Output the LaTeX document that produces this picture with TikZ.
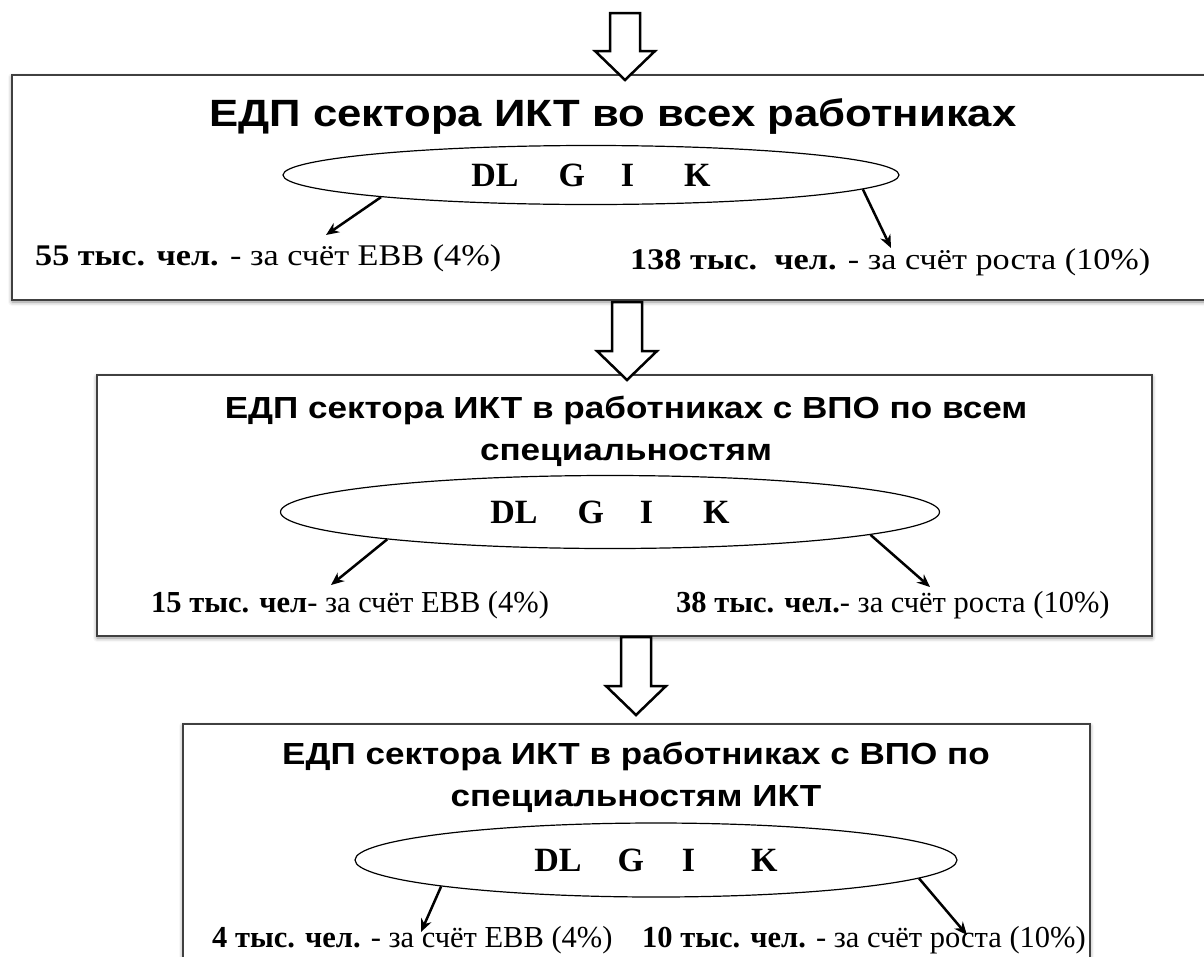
\documentclass[tikz,border=0pt]{standalone}
\usepackage{fontspec}
\setmainfont{Liberation Serif}
\setsansfont{Liberation Sans}
\newfontfamily\wideserif[FakeStretch=1.14]{Liberation Serif}
\newfontfamily\widesans[FakeStretch=1.15]{Liberation Sans}
\usetikzlibrary{arrows.meta,shapes.geometric,shadows.blur}

\begin{document}
\begin{tikzpicture}[x=1pt, y=-1pt, > = {Stealth[length=13pt,width=11pt]},
    box/.style = {draw=black!75, line width=2.5pt, fill=white, blur shadow={shadow xshift=0pt, shadow yshift=-2pt, shadow blur radius=4pt, shadow opacity=45}},
    bigarrow/.style = {draw=black, line width=2.5pt, fill=white, line join=miter},
    oval/.style = {draw, ellipse, line width=1.2pt, inner sep=0pt, font=\bfseries\fontsize{34}{34}\selectfont},
    head/.style = {font=\widesans\bfseries\fontsize{30.5}{42}\selectfont, align=center},
    lab/.style = {anchor=west, inner sep=0pt, font=\fontsize{30.5}{30}\selectfont},
    pointer/.style = {->, line width=2.5pt}]

    \useasboundingbox (0,0) rectangle (1204,956);

    % boxes
    \draw[box] (12,75) rectangle (1230,300);
    \draw[box] (97,375) rectangle (1152,636);
    \draw[box] (183,724) rectangle (1090,990);

    % hollow arrows between the boxes
    \foreach \x/\a/\b in {625/13/80, 627/302/380, 636/637/715}
        \draw[bigarrow] (\x-15,\a) -- (\x+15,\a) -- (\x+15,\b-29) -- (\x+30,\b-29) -- (\x,\b) -- (\x-30,\b-29) -- (\x-15,\b-29) -- cycle;

    % first box
    \node[head, font=\widesans\bfseries\fontsize{38}{42}\selectfont] (t1) at (613,117) {ЕДП сектора ИКТ во всех работниках};
    \node[oval, minimum width=616pt, minimum height=59pt] (e1) at (591,175) {DL\hspace{40pt}G\hspace{36pt}I\hspace{50pt}K};
    \node[lab, font=\wideserif\fontsize{30}{30}\selectfont] (l1) at (35,258) {\textbf{55 тыс. чел.} - за счёт ЕВВ (4\%)};
    \node[lab, font=\wideserif\fontsize{30}{30}\selectfont] (r1) at (630,262) {\textbf{138 тыс.\ \ чел.} - за счёт роста (10\%)};
    \coordinate (l1p) at (326,235);
    \coordinate (r1p) at (891,248);
    \draw[pointer] (e1.186) -- (l1p);
    \draw[pointer] (e1.357) -- (r1p);

    % second box
    \node[head] (t2) at (626,431) {ЕДП сектора ИКТ в работниках с ВПО по всем\\специальностям};
    \node[oval, minimum width=659pt, minimum height=73pt] (e2) at (610,512) {DL\hspace{40pt}G\hspace{36pt}I\hspace{50pt}K};
    \node[lab] (l2) at (151,605) {\textbf{15 тыс. чел}- за счёт ЕВВ (4\%)};
    \node[lab] (r2) at (676,605) {\textbf{38 тыс. чел.}- за счёт роста (10\%)};
    \coordinate (l2p) at (331,585);
    \coordinate (r2p) at (930,587);
    \draw[pointer] (e2.187) -- (l2p);
    \draw[pointer] (e2.355) -- (r2p);

    % third box
    \node[head] (t3) at (636,777) {ЕДП сектора ИКТ в работниках с ВПО по\\специальностям ИКТ};
    \node[oval, minimum width=602pt, minimum height=74pt] (e3) at (656,860) {DL\hspace{36pt}G\hspace{38pt}I\hspace{56pt}K};
    \node[lab] (l3) at (212,940) {\textbf{4 тыс. чел.} - за счёт ЕВВ (4\%)};
    \node[lab] (r3) at (642,940) {\textbf{10 тыс. чел.} - за счёт роста (10\%)};
    \coordinate (l3p) at (421,932);
    \coordinate (r3p) at (967,935);
    \draw[pointer] (e3.187) -- (l3p);
    \draw[pointer] (e3.356) -- (r3p);

\end{tikzpicture}
\end{document}
